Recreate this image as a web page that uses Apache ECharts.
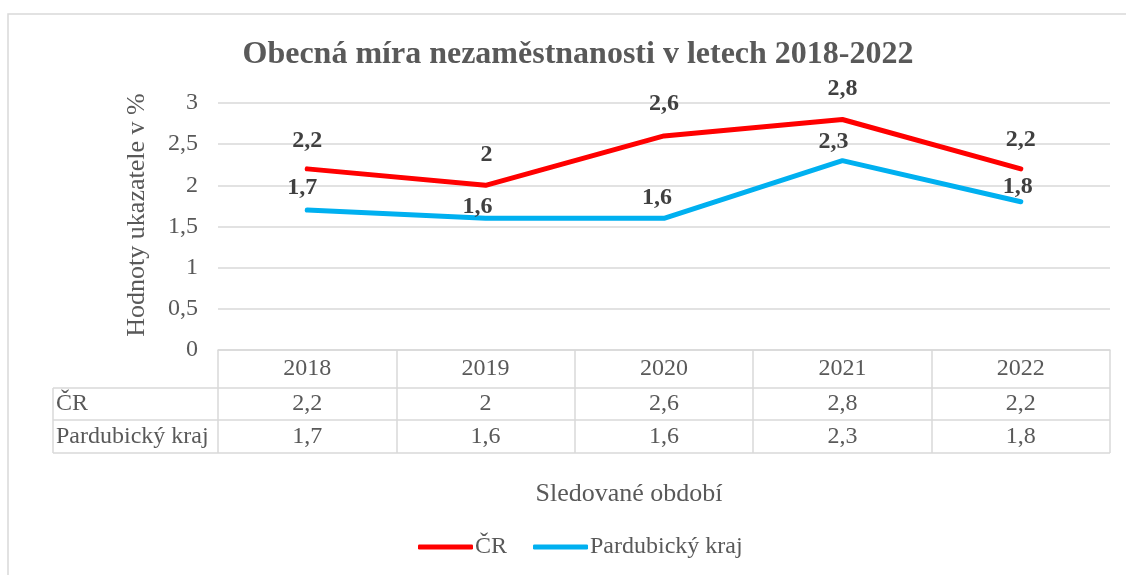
<!DOCTYPE html>
<html>
<head>
<meta charset="utf-8">
<script src="https://cdn.jsdelivr.net/npm/echarts@6/dist/echarts.min.js"></script>
<style>html,body{margin:0;padding:0;background:#fff}#c{width:1126px;height:575px}</style>
</head>
<body>
<div id="c"></div>
<script>
// ---- data ----
const years = ['2018', '2019', '2020', '2021', '2022'];
const seriesNames = ['ČR', 'Pardubický kraj'];
const valuesCR = [2.2, 2.0, 2.6, 2.8, 2.2];
const valuesPK = [1.7, 1.6, 1.6, 2.3, 1.8];
const yTicks = [0, 0.5, 1, 1.5, 2, 2.5, 3];

// ---- styles (label offsets relative to points) ----
const labelOffsetCR = [[0, -28], [1, -31], [0, -32], [0, -31], [0, -29]];
const labelOffsetPK = [[-5, -22], [-8, -11], [-7, -20], [-9, -19], [-3, -15]];

const FONT = '"Liberation Serif", "Times New Roman", serif';
const GRID = { left: 218, right: 16, top: 103, bottom: 225 };
const W = 1126, H = 575;
const plotBottom = H - GRID.bottom;      // 350
const row1 = plotBottom + 38;            // 388
const row2 = plotBottom + 70;            // 420
const row3 = plotBottom + 103;           // 453
const tableLeft = 53;
const plotRight = W - GRID.right;        // 1110
const fmt = v => String(v).replace('.', ',');
const gridColor = '#d9d9d9';
const textColor = '#595959';
const FS = 24;

function mkData(vals, offs) {
  return vals.map((v, i) => ({
    value: v,
    label: { offset: offs[i] }
  }));
}

const chart = echarts.init(document.getElementById('c'), null, { renderer: 'canvas' });

const tableAxisBase = {
  type: 'category',
  data: years,
  position: 'bottom',
  gridIndex: 0,
  axisLine: { show: false },
  axisTick: { show: false },
  splitLine: { show: false }
};

chart.setOption({
  backgroundColor: '#fff',
  animation: false,
  title: [{
    text: 'Obecná míra nezaměstnanosti v letech 2018-2022',
    left: 573, top: 34, textAlign: 'center',
    textStyle: { fontFamily: FONT, fontSize: 32, fontWeight: 'bold', color: textColor }
  }, {
    text: 'Sledované období',
    left: 624, top: 476, textAlign: 'center',
    textStyle: { fontFamily: FONT, fontSize: 26, fontWeight: 'normal', color: textColor }
  }],
  legend: {
    data: seriesNames,
    left: 413, top: 530,
    itemWidth: 55, itemHeight: 5, itemGap: 26,
    icon: 'roundRect',
    textStyle: { fontFamily: FONT, fontSize: FS, color: textColor, padding: [0, 0, 0, -3] }
  },
  grid: { left: GRID.left, right: GRID.right, top: GRID.top, bottom: GRID.bottom, containLabel: false },
  xAxis: [
    {
      type: 'category',
      data: years,
      position: 'bottom',
      boundaryGap: true,
      axisLine: { show: true, lineStyle: { color: gridColor, width: 1.5 } },
      axisTick: { show: true, alignWithLabel: false, length: row3 - plotBottom, lineStyle: { color: gridColor, width: 1.5 } },
      axisLabel: { fontFamily: FONT, fontSize: FS, color: textColor, margin: 7 },
      splitLine: { show: false }
    },
    Object.assign({}, tableAxisBase, {
      offset: row1 - plotBottom,
      axisLabel: { fontFamily: FONT, fontSize: FS, color: textColor, margin: 4,
        formatter: (v, i) => fmt(valuesCR[i]) }
    }),
    Object.assign({}, tableAxisBase, {
      offset: row2 - plotBottom,
      axisLabel: { fontFamily: FONT, fontSize: FS, color: textColor, margin: 5,
        formatter: (v, i) => fmt(valuesPK[i]) }
    })
  ],
  yAxis: {
    type: 'value',
    min: yTicks[0], max: yTicks[yTicks.length - 1], interval: 0.5,
    axisLine: { show: false },
    axisTick: { show: false },
    axisLabel: { fontFamily: FONT, fontSize: FS, color: textColor, margin: 20, formatter: v => fmt(v) },
    splitLine: { lineStyle: { color: gridColor, width: 1.5 } }
  },
  series: [
    {
      name: seriesNames[0], type: 'line', xAxisIndex: 0,
      data: mkData(valuesCR, labelOffsetCR),
      symbol: 'circle', symbolSize: 0.1, showSymbol: true,
      lineStyle: { color: '#ff0000', width: 5, cap: 'round', join: 'round' },
      itemStyle: { color: '#ff0000' },
      label: { show: true, position: 'inside', fontFamily: FONT, fontSize: FS, fontWeight: 'bold', color: '#404040',
        formatter: p => fmt(p.value) },
      z: 3
    },
    {
      name: seriesNames[1], type: 'line', xAxisIndex: 0,
      data: mkData(valuesPK, labelOffsetPK),
      symbol: 'circle', symbolSize: 0.1, showSymbol: true,
      lineStyle: { color: '#00b0f0', width: 5, cap: 'round', join: 'round' },
      itemStyle: { color: '#00b0f0' },
      label: { show: true, position: 'inside', fontFamily: FONT, fontSize: FS, fontWeight: 'bold', color: '#404040',
        formatter: p => fmt(p.value) },
      z: 2
    }
  ],
  graphic: [
    { type: 'rect', silent: true, shape: { x: 8, y: 14, width: 1200, height: 700 },
      style: { fill: 'none', stroke: gridColor, lineWidth: 1.5 } },
    { type: 'line', silent: true, shape: { x1: tableLeft, y1: row1, x2: plotRight, y2: row1 }, style: { stroke: gridColor, lineWidth: 1.5 } },
    { type: 'line', silent: true, shape: { x1: tableLeft, y1: row2, x2: plotRight, y2: row2 }, style: { stroke: gridColor, lineWidth: 1.5 } },
    { type: 'line', silent: true, shape: { x1: tableLeft, y1: row3, x2: plotRight, y2: row3 }, style: { stroke: gridColor, lineWidth: 1.5 } },
    { type: 'line', silent: true, shape: { x1: tableLeft, y1: row1, x2: tableLeft, y2: row3 }, style: { stroke: gridColor, lineWidth: 1.5 } },
    { type: 'text', silent: true, x: tableLeft + 3, y: row1 + 16,
      style: { text: seriesNames[0], fontFamily: FONT, fontSize: FS, fill: textColor, textVerticalAlign: 'middle' } },
    { type: 'text', silent: true, x: tableLeft + 3, y: row2 + 17,
      style: { text: seriesNames[1], fontFamily: FONT, fontSize: FS, fill: textColor, textVerticalAlign: 'middle' } },
    { type: 'text', silent: true, x: 137, y: 215, rotation: Math.PI / 2,
      style: { text: 'Hodnoty ukazatele v %', fontFamily: FONT, fontSize: 26, fill: textColor,
        textAlign: 'center', textVerticalAlign: 'middle' } }
  ]
});
</script>
</body>
</html>
